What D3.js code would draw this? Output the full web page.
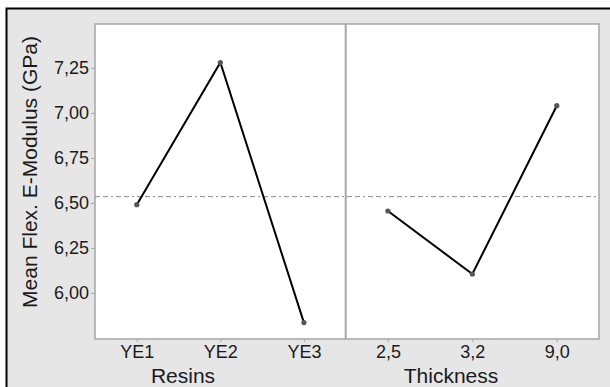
<!DOCTYPE html>
<html>
<head>
<meta charset="utf-8">
<script src="https://cdn.jsdelivr.net/npm/d3@7"></script>
<style>
  body { margin: 0; background: #fff; }
  svg text { font-family: "Liberation Sans", Arial, sans-serif; fill: #1a1a1a; }
</style>
</head>
<body>
<div id="chart"></div>
<script>
// main effects data
var resins = ["YE1", "YE2", "YE3"]
var resinMeans = [6.49, 7.28, 5.835]
var thickness = ["2,5", "3,2", "9,0"]
var thicknessMeans = [6.455, 6.105, 7.04]
var grandMean = 6.535
var yTicks = [6.00, 6.25, 6.50, 6.75, 7.00, 7.25]

var W = 610, H = 387
var plot = {left: 95, right: 599, top: 24, bottom: 339, split: 345.7}

var svg = d3.select("#chart").append("svg")
  .attr("width", W)
  .attr("height", H)

// outer frame
svg.append("rect")
  .attr("x", 6.5).attr("y", 8.5)
  .attr("width", W).attr("height", H)
  .attr("fill", "#e6e6e6")
  .attr("stroke", "#000")
  .attr("stroke-width", 2)

// plot area
svg.append("rect")
  .attr("x", plot.left).attr("y", plot.top)
  .attr("width", plot.right - plot.left)
  .attr("height", plot.bottom - plot.top)
  .attr("fill", "#fff")
  .attr("stroke", "#a6a6a6")
  .attr("stroke-width", 1.5)

// scales
var y = d3.scaleLinear()
  .domain([5.744, 7.494])
  .range([plot.bottom, plot.top])

var xL = d3.scalePoint().domain(resins)
  .range([plot.left, plot.split]).padding(0.5)
var xR = d3.scalePoint().domain(thickness)
  .range([plot.split, plot.right]).padding(0.5)

var commaFmt = function (d) { return d3.format(".2f")(d).replace(".", ",") }

// y axis
var yAxis = svg.append("g")
  .attr("transform", "translate(" + plot.left + ",0)")
  .call(d3.axisLeft(y).tickValues(yTicks).tickFormat(commaFmt).tickSize(4).tickPadding(2))
yAxis.select(".domain").remove()

// x axes, one per panel
function xAxis (scale) {
  var g = svg.append("g")
    .attr("transform", "translate(0," + plot.bottom + ")")
    .call(d3.axisBottom(scale).tickSize(3).tickPadding(3))
  g.select(".domain").remove()
  return g
}
xAxis(xL)
xAxis(xR)

svg.selectAll(".tick line").attr("stroke", "#a6a6a6")
svg.selectAll(".tick text")
  .style("font-family", "'Liberation Sans', Arial, sans-serif")
  .style("font-size", "18px")
  .attr("fill", "#1a1a1a")

// panel divider
svg.append("line")
  .attr("x1", plot.split).attr("x2", plot.split)
  .attr("y1", plot.top).attr("y2", plot.bottom)
  .attr("stroke", "#a6a6a6")
  .attr("stroke-width", 2)

// grand mean reference line
svg.append("line")
  .attr("x1", plot.left).attr("x2", plot.right)
  .attr("y1", y(grandMean)).attr("y2", y(grandMean))
  .attr("stroke", "#8c8c8c")
  .attr("stroke-width", 1)
  .attr("stroke-dasharray", "5,3,5,3,2,3")

// effect lines
function drawSeries (scale, cats, vals) {
  var pts = cats.map(function (c, i) { return [scale(c), y(vals[i])] })

  svg.append("path")
    .attr("d", d3.line()(pts))
    .attr("fill", "none")
    .attr("stroke", "#000")
    .attr("stroke-width", 2)

  svg.selectAll(null)
    .data(pts)
    .enter().append("circle")
    .attr("cx", function (d) { return d[0] })
    .attr("cy", function (d) { return d[1] })
    .attr("r", 2.6)
    .attr("fill", "#555")
}
drawSeries(xL, resins, resinMeans)
drawSeries(xR, thickness, thicknessMeans)

// axis titles
svg.append("text")
  .attr("x", 183).attr("y", 383)
  .attr("text-anchor", "middle")
  .style("font-size", "21px")
  .text("Resins")

svg.append("text")
  .attr("x", 451).attr("y", 383)
  .attr("text-anchor", "middle")
  .style("font-size", "21px")
  .text("Thickness")

svg.append("text")
  .attr("transform", "translate(37,172) rotate(-90)")
  .attr("text-anchor", "middle")
  .style("font-size", "21px")
  .text("Mean Flex. E-Modulus (GPa)")
</script>
</body>
</html>
